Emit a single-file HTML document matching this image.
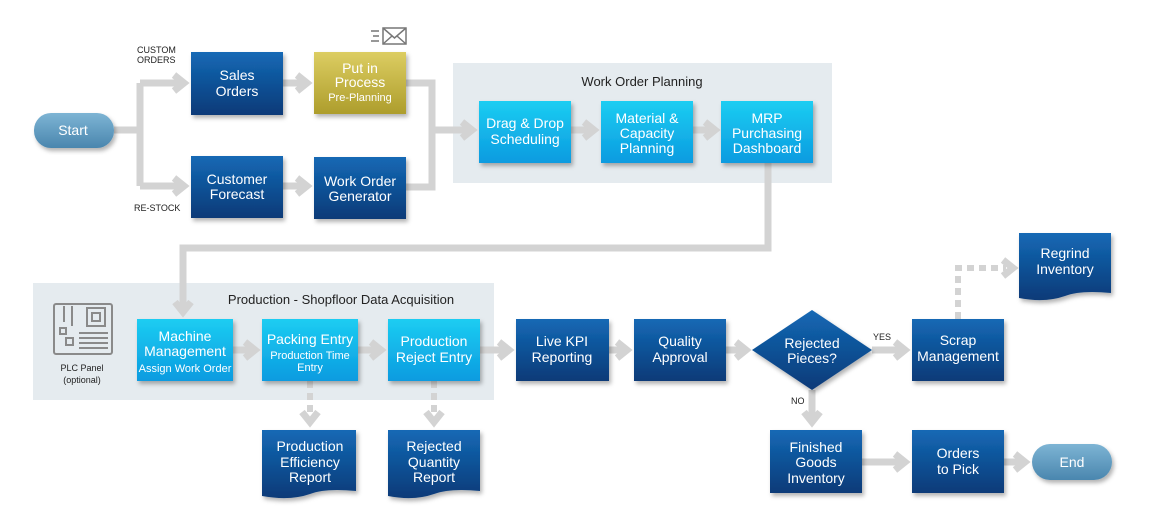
<!DOCTYPE html>
<html><head><meta charset="utf-8"><style>
html,body{margin:0;padding:0;background:#fff;}
svg{display:block;}
text{font-family:"Liberation Sans",sans-serif;}
.w{fill:#fff;font-size:14px;text-anchor:middle;}
.s{fill:#fff;font-size:11px;text-anchor:middle;}
.k{fill:#222;font-size:9px;}
.c{fill:none;stroke:#d3d3d3;stroke-width:7;}
.d{fill:none;stroke:#d3d3d3;stroke-width:6;stroke-dasharray:7,5;}
.h{fill:none;stroke:#d3d3d3;stroke-width:7;stroke-linejoin:miter;}
</style></head><body>
<svg width="1150" height="530" viewBox="0 0 1150 530" xmlns="http://www.w3.org/2000/svg">
<defs>
<linearGradient id="db" x1="0" y1="0" x2="0" y2="1"><stop offset="0" stop-color="#1469b5"/><stop offset="1" stop-color="#0a3a78"/></linearGradient>
<linearGradient id="lb" x1="0" y1="0" x2="0" y2="1"><stop offset="0" stop-color="#1ccdf2"/><stop offset="1" stop-color="#0b9be0"/></linearGradient>
<linearGradient id="gd" x1="0" y1="0" x2="0" y2="1"><stop offset="0" stop-color="#dccd62"/><stop offset="1" stop-color="#ad9d2c"/></linearGradient>
<linearGradient id="pl" x1="0" y1="0" x2="0" y2="1"><stop offset="0" stop-color="#7db4d4"/><stop offset="1" stop-color="#4a86ae"/></linearGradient>
<filter id="sh" x="-10%" y="-10%" width="130%" height="130%"><feDropShadow dx="2" dy="3" stdDeviation="2" flood-color="#000" flood-opacity="0.3"/></filter>
</defs>

<!-- groups -->
<rect x="453" y="63" width="379" height="120" fill="#e5ebef"/>
<text x="642" y="86" font-size="13" fill="#222" text-anchor="middle">Work Order Planning</text>
<rect x="33" y="283" width="461" height="117" fill="#e5ebef"/>
<text x="341" y="304" font-size="13" fill="#222" text-anchor="middle">Production - Shopfloor Data Acquisition</text>

<!-- connectors top -->
<path class="c" d="M114 130 H140 M140 83 V186 M140 83 H182 M140 186 H182"/>
<path class="h" d="M174 75 L184 83 L174 91 M174 178 L184 186 L174 194"/>
<path class="c" d="M283 83 H306 M283 186 H306"/>
<path class="h" d="M297 75 L307 83 L297 91 M297 178 L307 186 L297 194"/>
<path class="c" d="M406 83 H432 V187 H406 M432 130 H470"/>
<path class="h" d="M462 122 L472 130 L462 138"/>
<path class="c" d="M571 130 H593 M693 130 H714"/>
<path class="h" d="M584 122 L594 130 L584 138 M705 122 L715 130 L705 138"/>
<path class="c" d="M768 163 V248 H183 V310"/>
<path class="h" d="M175 302 L183 312 L191 302"/>

<!-- connectors production -->
<path class="c" d="M233 350 H254 M358 350 H380 M480 350 H508 M609 350 H626 M726 350 H745 M872 350 H904"/>
<path class="h" d="M245 342 L255 350 L245 358 M371 342 L381 350 L371 358 M499 342 L509 350 L499 358 M617 342 L627 350 L617 358 M736 342 L746 350 L736 358 M895 342 L905 350 L895 358"/>
<path class="c" d="M812 390 V422"/>
<path class="h" d="M804 412 L812 422 L820 412"/>
<path class="c" d="M862 462 H904 M1004 462 H1024"/>
<path class="h" d="M895 454 L905 462 L895 470 M1015 454 L1025 462 L1015 470"/>
<path class="d" d="M310 381 V414 M434 381 V414 M958 319 V268 H1006"/>
<path class="h" d="M302 412 L310 422 L318 412 M426 412 L434 422 L442 412 M1003 260 L1013 268 L1003 276"/>

<!-- labels -->
<text class="k" x="137" y="53">CUSTOM</text>
<text class="k" x="137" y="63">ORDERS</text>
<text class="k" x="134" y="211">RE-STOCK</text>
<text class="k" x="873" y="340">YES</text>
<text class="k" x="791" y="404">NO</text>

<!-- envelope -->
<g fill="none" stroke="#777" stroke-width="1.5">
<rect x="383" y="28" width="23" height="16"/><path d="M383 28 L394.5 38 L406 28 M383 44 L392 36 M406 44 L397 36"/>
<path d="M371 31 H379 M373 36 H379 M371 41 H379"/>
</g>

<!-- PLC icon -->
<g fill="none" stroke="#8a8a8a" stroke-width="2">
<rect x="54" y="304" width="58" height="50" rx="2"/>
<rect x="87" y="308" width="18" height="18"/><rect x="92" y="313" width="8" height="8"/>
<path d="M64 306 V322 M72 306 V326"/>
<rect x="60" y="328" width="6" height="6"/><rect x="66" y="338" width="7" height="7"/>
<path d="M79 333 H108 M79 338 H108 M79 343 H108 M79 348 H108"/>
</g>
<text x="82" y="371" font-size="9" fill="#222" text-anchor="middle">PLC Panel</text>
<text x="82" y="383" font-size="9" fill="#222" text-anchor="middle">(optional)</text>

<!-- start / end -->
<rect x="34" y="113" width="80" height="35" rx="17" fill="url(#pl)" filter="url(#sh)"/>
<text class="w" x="73" y="135">Start</text>
<rect x="1032" y="444" width="80" height="36" rx="18" fill="url(#pl)" filter="url(#sh)"/>
<text class="w" x="1072" y="467">End</text>

<!-- top boxes -->
<g filter="url(#sh)">
<rect x="191" y="52" width="92" height="63" fill="url(#db)"/>
<rect x="314" y="52" width="92" height="62" fill="url(#gd)"/>
<rect x="191" y="156" width="92" height="62" fill="url(#db)"/>
<rect x="314" y="157" width="92" height="62" fill="url(#db)"/>
<rect x="479" y="101" width="92" height="62" fill="url(#lb)"/>
<rect x="601" y="101" width="92" height="62" fill="url(#lb)"/>
<rect x="721" y="101" width="92" height="62" fill="url(#lb)"/>
<rect x="137" y="319" width="96" height="62" fill="url(#lb)"/>
<rect x="262" y="319" width="96" height="62" fill="url(#lb)"/>
<rect x="388" y="319" width="92" height="62" fill="url(#lb)"/>
<rect x="516" y="319" width="93" height="62" fill="url(#db)"/>
<rect x="634" y="319" width="92" height="62" fill="url(#db)"/>
<polygon points="812,310 872,350 812,390 752,350" fill="url(#db)"/>
<rect x="912" y="319" width="92" height="62" fill="url(#db)"/>
<rect x="770" y="430" width="92" height="63" fill="url(#db)"/>
<rect x="912" y="430" width="92" height="63" fill="url(#db)"/>
<path d="M1019 233 H1111 V293 Q1080 290 1065 296 Q1045 303 1019 298 Z" fill="url(#db)"/>
<path d="M262 430 H356 V491 Q325 488 310 494 Q290 501 262 496 Z" fill="url(#db)"/>
<path d="M388 430 H480 V491 Q450 488 434 494 Q414 501 388 496 Z" fill="url(#db)"/>
</g>

<text class="w" x="237" y="80">Sales</text><text class="w" x="237" y="96">Orders</text>
<text class="w" x="360" y="73">Put in</text><text class="w" x="360" y="87">Process</text><text class="s" x="360" y="101">Pre-Planning</text>
<text class="w" x="237" y="184">Customer</text><text class="w" x="237" y="199">Forecast</text>
<text class="w" x="360" y="186">Work Order</text><text class="w" x="360" y="201">Generator</text>
<text class="w" x="525" y="128">Drag &amp; Drop</text><text class="w" x="525" y="144">Scheduling</text>
<text class="w" x="647" y="123">Material &amp;</text><text class="w" x="647" y="138">Capacity</text><text class="w" x="647" y="153">Planning</text>
<text class="w" x="767" y="123">MRP</text><text class="w" x="767" y="138">Purchasing</text><text class="w" x="767" y="153">Dashboard</text>
<text class="w" x="185" y="341">Machine</text><text class="w" x="185" y="356">Management</text><text class="s" x="185" y="372">Assign Work Order</text>
<text class="w" x="310" y="344">Packing Entry</text><text class="s" x="310" y="359">Production Time</text><text class="s" x="310" y="371">Entry</text>
<text class="w" x="434" y="346">Production</text><text class="w" x="434" y="362">Reject Entry</text>
<text class="w" x="562" y="346">Live KPI</text><text class="w" x="562" y="362">Reporting</text>
<text class="w" x="680" y="346">Quality</text><text class="w" x="680" y="362">Approval</text>
<text class="w" x="812" y="348">Rejected</text><text class="w" x="812" y="363">Pieces?</text>
<text class="w" x="958" y="345">Scrap</text><text class="w" x="958" y="361">Management</text>
<text class="w" x="1065" y="258">Regrind</text><text class="w" x="1065" y="274">Inventory</text>
<text class="w" x="816" y="452">Finished</text><text class="w" x="816" y="467">Goods</text><text class="w" x="816" y="483">Inventory</text>
<text class="w" x="958" y="458">Orders</text><text class="w" x="958" y="474">to Pick</text>
<text class="w" x="310" y="451">Production</text><text class="w" x="310" y="467">Efficiency</text><text class="w" x="310" y="482">Report</text>
<text class="w" x="434" y="451">Rejected</text><text class="w" x="434" y="467">Quantity</text><text class="w" x="434" y="482">Report</text>
</svg>
</body></html>
